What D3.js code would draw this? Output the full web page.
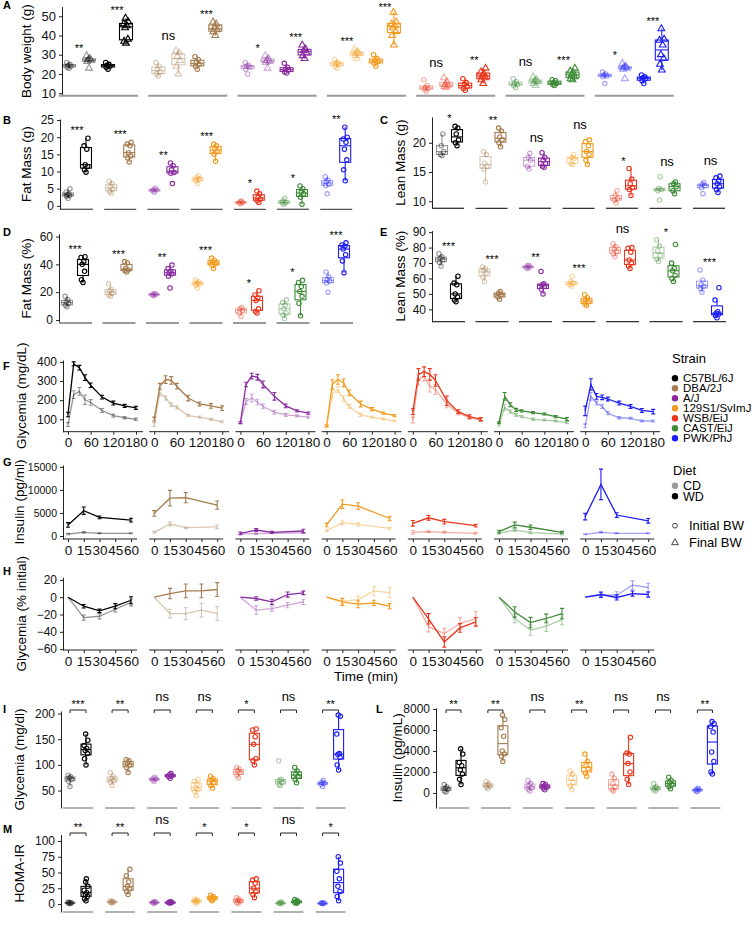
<!DOCTYPE html>
<html>
<head>
<meta charset="utf-8">
<script src="https://cdn.jsdelivr.net/npm/d3@7"></script>
<style>
body { margin: 0; background: #fff; }
svg { font-family: "Liberation Sans", Arial, sans-serif; }
</style>
</head>
<body>
<div id="fig"></div>
<script>
// strains and colours
var strains = ["C57BL/6J", "DBA/2J", "A/J", "129S1/SvImJ", "WSB/EiJ", "CAST/EiJ", "PWK/PhJ"];
var strainColors = ["#000000", "#a57c4f", "#8a2ba0", "#f39a1e", "#e8361c", "#3d8b37", "#1c1cf5"];

// A: body weight, per strain [CD initial, CD final, WD initial, WD final]
var bodyWeight = [
  [[23, 23.5, 24, 24.5, 25, 26], [23, 26.5, 27, 27.5, 28, 29.5], [22.5, 23.5, 24, 24.5, 25, 26], [36, 37, 38, 44, 45, 46, 47, 49]],
  [[19, 20, 21, 22.5, 24, 26], [20, 24, 27, 29, 31, 32], [22.5, 24, 25, 26, 27.5, 29], [40, 42, 43, 44, 46, 47]],
  [[20, 22.5, 23.5, 24, 24.5, 26], [23, 26, 26.5, 27, 28, 29.5], [20.5, 21, 22, 22.5, 23.5, 25.5], [28, 29.5, 31, 32, 33, 35]],
  [[23, 24, 25, 25.5, 26, 27.5], [28, 29.5, 30.5, 31, 31.5, 33], [24, 25.5, 26.5, 27, 28, 30], [35, 40, 42, 44, 45, 46, 47, 52]],
  [[11, 12, 12.5, 13, 14, 17], [13, 13.5, 14, 14.5, 16, 18], [11.5, 12.5, 13.5, 14.5, 15.5, 17.5], [15, 17, 18, 19, 20, 21, 23]],
  [[13, 14, 14.5, 15, 16, 17.5], [14, 15, 16, 16.5, 17, 18.5], [14, 14.5, 15, 15.5, 16.5, 17], [17, 17.5, 18.5, 19.5, 20.5, 21.5, 23]],
  [[15, 18.5, 19, 19.5, 20, 21], [17.5, 22.5, 23, 23.5, 24, 25.5], [15, 16.5, 17.5, 18, 18.5, 19.5], [22, 25, 28, 30, 35, 37.5, 38, 43.5]]
];
var bodyWeightSig = [["**", "***"], ["ns", "***"], ["*", "***"], ["***", "***"], ["ns", "**"], ["ns", "***"], ["*", "***"]];

// B: fat mass (g), per strain [CD, WD]
var fatMass = [
  [[2.2, 2.8, 3.0, 3.2, 3.5, 4, 5], [9.8, 10.5, 11.5, 12, 16.5, 17.5, 19.7]],
  [[3.7, 4.2, 5, 5.5, 6.5, 7.2], [12.8, 14, 14.5, 15.5, 17.5, 18, 18.5]],
  [[4, 4.3, 4.6, 4.8, 5.2], [6.5, 9.5, 9.7, 10.5, 11.7, 12.5]],
  [[6.5, 7.3, 7.8, 8.2, 8.8], [13, 15, 16, 16.5, 17.5, 18]],
  [[0.6, 0.8, 1, 1.2, 1.4], [1, 1.5, 2, 2.5, 3.5, 4.3]],
  [[0.5, 0.8, 1, 1.5, 2.2], [0.5, 2.5, 3.5, 4, 5, 5.8]],
  [[3.5, 5.9, 6.3, 7, 7.5, 8.5], [7.3, 10.5, 13.4, 16.5, 18.5, 19.5, 20, 22.9]]
];
var fatMassSig = ["***", "***", "**", "***", "*", "*", "**"];

// C: lean mass (g)
var leanMass = [
  [[17.8, 18, 18.5, 19.5, 21.5], [19.5, 20, 20.5, 21.5, 22.5, 22.8]],
  [[13.3, 15.5, 16, 16.5, 18, 18.5], [19.3, 20, 20.5, 21, 22, 22.5]],
  [[15.5, 16, 17, 17.5, 18.2], [15.8, 16, 16.5, 17, 17.5, 18.3]],
  [[16.3, 16.5, 17.3, 17.5, 18], [16.3, 17, 18, 18.5, 19.5, 20.2, 20.5]],
  [[9.7, 10.2, 10.5, 11, 11.8], [11, 12, 12.3, 13, 13.8, 15.6]],
  [[10.2, 11.8, 12, 12.2, 14.2], [11.3, 11.8, 12.5, 13, 13.3]],
  [[11.3, 12.3, 12.7, 12.9, 13.2], [11.5, 12, 12.5, 13, 13.5, 14, 14.3]]
];
var leanMassSig = ["*", "**", "ns", "ns", "*", "ns", "ns"];

// D: fat mass (%)
var fatPct = [
  [[9.5, 10.5, 12, 13, 14.5, 17], [27, 29, 35, 40, 42, 45, 45.5]],
  [[17, 18, 19, 21, 22, 26], [34.5, 35.5, 36, 37, 41, 42]],
  [[17.5, 18, 18.3, 18.7, 19], [23, 31.5, 33, 34, 35, 37, 39.5]],
  [[23, 25, 26, 26.5, 27.5, 28.5], [37, 39.5, 40.5, 41.5, 43, 44.5]],
  [[2.5, 5, 7, 8, 9], [5, 6, 8, 14, 16, 18, 21]],
  [[1, 3.5, 5, 8, 10.5, 12.5, 14.5], [3, 12, 17, 20.5, 24, 27, 28.5]],
  [[20, 26.5, 28, 29, 31, 34.5], [34, 42.5, 47, 51, 53, 54, 55.5]]
];
var fatPctSig = ["***", "***", "**", "***", "*", "*", "***"];

// E: lean mass (%)
var leanPct = [
  [[68, 70.5, 72, 73, 74, 76], [45, 46, 48, 50, 56, 57, 61.5]],
  [[58, 61, 63.5, 65, 66.5, 67.5], [46.5, 48, 49.5, 50.5, 51.5]],
  [[66.5, 67, 67.5, 68, 68.5], [50, 53, 55, 56, 56.5, 64.5]],
  [[55, 56, 57, 58, 61.5], [42.5, 43.5, 45, 46, 47.5, 49.5]],
  [[74, 76, 77.5, 79, 80.5, 82.5], [66.5, 68, 70, 72, 77, 79.5, 80]],
  [[71, 72.5, 75, 78, 81, 85], [58, 60, 62, 65, 66.5, 70, 82]],
  [[51, 53.5, 55, 56, 59, 65.5], [34.5, 36, 37, 37.5, 38.5, 46, 54]]
];
var leanPctSig = ["***", "***", "**", "***", "ns", "*", "***"];

// F: glucose tolerance (mg/dL)
var ogttTime = [0, 15, 30, 45, 60, 90, 120, 150, 180];
var glucWD = [
  [125, 390, 370, 318, 278, 216, 185, 170, 160],
  [101, 273, 308, 303, 273, 211, 180, 170, 158],
  [82, 282, 326, 320, 282, 220, 170, 144, 132],
  [65, 282, 308, 291, 238, 180, 153, 132, 119],
  [140, 335, 349, 335, 303, 197, 140, 114, 101],
  [82, 220, 176, 149, 144, 135, 127, 114, 101],
  [144, 282, 220, 215, 206, 185, 167, 146, 140]
];
var glucWDse = [
  [12, 10, 12, 15, 12, 10, 10, 8, 8],
  [10, 15, 20, 20, 15, 15, 10, 12, 12],
  [5, 12, 15, 15, 18, 20, 10, 6, 6],
  [5, 25, 25, 20, 15, 15, 8, 6, 6],
  [15, 30, 25, 30, 30, 25, 10, 10, 8],
  [5, 20, 10, 8, 6, 6, 5, 6, 8],
  [25, 30, 15, 12, 10, 10, 10, 10, 12]
];
var glucCD = [
  [73, 229, 246, 202, 188, 146, 119, 108, 100],
  [73, 238, 211, 176, 162, 119, 111, 100, 87],
  [82, 193, 211, 190, 167, 137, 123, 118, 111],
  [65, 232, 255, 208, 167, 123, 111, 102, 91],
  [96, 308, 326, 273, 255, 180, 132, 108, 96],
  [73, 162, 140, 123, 114, 100, 96, 91, 82],
  [66, 220, 185, 167, 132, 108, 105, 91, 91]
];
var glucCDse = [
  [10, 20, 20, 25, 15, 10, 8, 6, 6],
  [10, 15, 10, 10, 8, 6, 6, 5, 5],
  [5, 15, 20, 15, 12, 10, 8, 6, 6],
  [5, 20, 15, 15, 10, 8, 6, 5, 5],
  [15, 30, 25, 30, 25, 20, 10, 8, 8],
  [8, 15, 10, 8, 6, 6, 5, 5, 5],
  [10, 20, 10, 10, 8, 6, 5, 5, 5]
];

// G: insulin (pg/ml)
var insTime = [0, 15, 30, 60];
var insWD = [[2400, 5500, 4050, 3450], [4900, 8200, 8300, 6700], [580, 1300, 800, 1080], [2400, 6900, 6500, 3800],
  [2750, 3950, 3100, 2250], [950, 2400, 1900, 800], [4200, 11200, 4550, 3300]];
var insWDse = [[500, 800, 300, 400], [600, 1700, 1100, 900], [300, 300, 200, 400], [400, 900, 700, 500],
  [600, 500, 500, 300], [300, 600, 500, 200], [700, 3300, 500, 500]];
var insCD = [[430, 800, 580, 580], [800, 2600, 1800, 2000], [450, 500, 600, 700], [1150, 2900, 2500, 1650],
  [800, 950, 800, 580], [580, 1300, 720, 430], [360, 800, 580, 580]];
var insCDse = [[150, 150, 100, 100], [200, 400, 200, 400], [100, 150, 100, 100], [200, 400, 400, 200],
  [400, 200, 200, 200], [200, 300, 200, 200], [100, 150, 100, 100]];

// H: insulin tolerance (% initial)
var ittTime = [0, 15, 30, 45, 60];
var ittWD = [[0, -10.4, -15.8, -10.4, -3.5], [0, 4.2, 7.3, 7.3, 8.9], [0, -1.5, -5.4, 3.1, 5], [0, -5.4, -8.1, -6.6, -10.4],
  [0, -25, -51.7, -35.5, -28.5], [0, -17, -29.3, -24.6, -18.9], [0, 3.1, -0.3, 4.2, 3.1]];
var ittWDse = [[0, 2, 2, 3, 4], [0, 6, 8, 8, 8], [0, 2, 3, 3, 2], [0, 4, 4, 3, 3], [0, 6, 6, 5, 5], [0, 6, 6, 5, 6], [0, 3, 3, 3, 3]];
var ittCD = [[0, -23.5, -22, -13.9, -6], [0, -18.9, -18.9, -15, -18.9], [0, -15, -13.1, -9.2, -5.4], [0, -4.6, -2.7, 7.3, 5.4],
  [0, -34, -42, -30.4, -24.6], [0, -24.6, -38, -33.5, -25.8], [0, 2.3, 2.3, 13.9, 11.2]];
var ittCDse = [[0, 3, 3, 3, 4], [0, 5, 7, 8, 8], [0, 5, 3, 3, 3], [0, 3, 4, 5, 6], [0, 6, 6, 7, 8], [0, 5, 6, 6, 6], [0, 3, 4, 5, 5]];

// I: fasting glycemia (mg/dl), L: fasting insulin (pg/mL), M: HOMA-IR
var fastGluc = [
  [[58, 68, 72, 75, 77, 80], [100, 112, 122, 128, 132, 138, 148, 160]],
  [[60, 66, 70, 73, 78, 85], [85, 95, 100, 103, 108, 110]],
  [[68, 70, 72, 74, 76], [74, 77, 79, 81, 83]],
  [[40, 48, 52, 56, 62, 68, 72], [55, 60, 66, 70, 73, 78]],
  [[75, 80, 85, 88, 92, 95], [100, 108, 112, 140, 155, 168, 170]],
  [[60, 62, 66, 70, 72, 108], [65, 72, 78, 82, 88, 95]],
  [[58, 62, 64, 66, 70], [90, 100, 115, 120, 122, 160, 195, 197]]
];
var fastGlucSig = ["***", "**", "ns", "ns", "*", "ns", "**"];
var fastIns = [
  [[100, 200, 350, 450, 600, 800], [800, 1300, 1800, 2200, 2600, 2900, 3700, 4200]],
  [[400, 550, 650, 750, 900, 1100], [3000, 3500, 3700, 4000, 5400, 6200, 7000, 7400]],
  [[200, 350, 500, 700, 900, 1200], [300, 450, 550, 650, 800, 900]],
  [[300, 700, 1000, 1400, 1800, 2100], [1600, 1900, 2300, 2600, 3000, 3700]],
  [[200, 300, 600, 900, 1400, 1800], [800, 1300, 2000, 2800, 3700, 3800, 5300]],
  [[200, 300, 400, 500, 600, 900], [400, 600, 800, 1000, 1200, 1500]],
  [[150, 200, 300, 350, 450], [1800, 2000, 3000, 3900, 5800, 6300, 6600, 6800]]
];
var fastInsSig = ["**", "**", "ns", "**", "ns", "ns", "**"];
var homa = [
  [[0.5, 1, 1.5, 2, 2.5, 3], [5, 8, 12, 15, 18, 22, 28, 35, 40]],
  [[1.5, 2.5, 3, 3.5, 4, 5], [15, 20, 24, 28, 35, 45, 55]],
  [[1, 1.5, 2.5, 3, 4], [1.5, 2, 2.5, 3, 3.5]],
  [[1, 3, 4, 5, 7, 8], [5, 7, 9, 10, 12, 14]],
  [[1, 2, 4, 6, 8, 10], [10, 15, 20, 25, 33, 38, 40]],
  [[0.5, 1, 1.5, 2, 3], [1, 2, 3, 4, 5, 7]],
  [[0.5, 1, 1.2, 1.5, 2], [5, 12, 20, 28, 40, 52, 65, 75]]
];
var homaSig = ["**", "**", "ns", "*", "*", "ns", "*"];

var LIGHT = 0.42;

var svg = d3.select("#fig").append("svg")
  .attr("width", 755)
  .attr("height", 928);

var tri = d3.symbol().type(d3.symbolTriangle).size(20)();
var jit = [0, -2, 2, -1, 1, -2.5, 2.5, -0.5, 0.5];

function boxStats(vals) {
  var s = vals.slice().sort(d3.ascending);
  var q1 = d3.quantile(s, 0.25), med = d3.quantile(s, 0.5), q3 = d3.quantile(s, 0.75);
  var iqr = q3 - q1;
  return {
    q1: q1, med: med, q3: q3,
    lo: d3.min(s.filter(v => v >= q1 - 1.5 * iqr)),
    hi: d3.max(s.filter(v => v <= q3 + 1.5 * iqr))
  };
}

function drawBox(g, cx, w, y, vals, color, op, shape) {
  var st = boxStats(vals);
  var b = g.append("g")
    .attr("stroke", color)
    .attr("stroke-opacity", op)
    .attr("stroke-width", 1.1)
    .attr("fill", "none");
  b.append("line").attr("x1", cx).attr("x2", cx).attr("y1", y(st.hi)).attr("y2", y(st.q3));
  b.append("line").attr("x1", cx).attr("x2", cx).attr("y1", y(st.q1)).attr("y2", y(st.lo));
  b.append("rect")
    .attr("x", cx - w / 2).attr("width", w)
    .attr("y", y(st.q3)).attr("height", Math.max(1, y(st.q1) - y(st.q3)));
  b.append("line").attr("x1", cx - w / 2).attr("x2", cx + w / 2).attr("y1", y(st.med)).attr("y2", y(st.med));
  vals.forEach(function(v, i) {
    var px = cx + jit[i % jit.length] * w / 14;
    if (shape === "t") {
      b.append("path").attr("d", tri).attr("transform", `translate(${px},${y(v)})`);
    } else {
      b.append("circle").attr("cx", px).attr("cy", y(v)).attr("r", 2.2);
    }
  });
}

function sigText(g, cx, yy, s) {
  if (s === "ns") {
    g.append("text").attr("x", cx).attr("y", Math.max(13, yy - 5)).attr("text-anchor", "middle")
      .attr("font-size", 13).text(s);
  } else {
    g.append("text").attr("x", cx).attr("y", Math.max(11, yy + 2)).attr("text-anchor", "middle")
      .attr("font-size", 11).text(s);
  }
}

function styleAxis(sel, fs) {
  sel.selectAll(".domain").attr("stroke", "#222");
  sel.selectAll(".tick line").attr("stroke", "#222");
  sel.selectAll(".tick text").attr("font-size", fs || 12).attr("fill", "#111")
    .attr("font-family", "Liberation Sans, Arial, sans-serif");
}

function panelLabel(x, y, s) {
  svg.append("text").attr("x", x).attr("y", y).attr("font-size", 11).attr("font-weight", "bold").text(s);
}

function yTitle(x, y, s) {
  svg.append("text")
    .attr("transform", `translate(${x},${y}) rotate(-90)`)
    .attr("text-anchor", "middle")
    .attr("font-size", 13.5)
    .text(s);
}

function boxPanel(p) {
  var g = svg.append("g");
  var y = d3.scaleLinear().domain(p.domain).range(p.range);
  g.append("g")
    .attr("transform", `translate(${p.axisX},0)`)
    .call(d3.axisLeft(y).tickValues(p.ticks).tickFormat(d3.format("d")).tickSize(3).tickSizeOuter(0))
    .call(styleAxis, p.tickFont);
  yTitle(p.titleX, (p.range[0] + p.range[1]) / 2, p.title);
  p.data.forEach(function(grp, i) {
    var x0 = p.x0 + i * p.step;
    g.append("line")
      .attr("x1", x0).attr("x2", x0 + p.gw)
      .attr("y1", p.range[0]).attr("y2", p.range[0])
      .attr("stroke", p.baseColor).attr("stroke-width", p.baseW);
    grp.forEach(function(vals, j) {
      drawBox(g, x0 + p.offs[j], p.bw, y, vals, strainColors[i], p.alpha[j], p.shape[j]);
    });
    p.pairs.forEach(function(pr, k) {
      var sig = Array.isArray(p.sig[i]) ? p.sig[i][k] : p.sig[i];
      var cx = x0 + (p.offs[pr[0]] + p.offs[pr[1]]) / 2;
      if (p.bracketY) {
        g.append("path")
          .attr("d", `M${x0 + p.offs[pr[0]]},${p.bracketY + 3}V${p.bracketY}H${x0 + p.offs[pr[1]]}V${p.bracketY + 3}`)
          .attr("fill", "none").attr("stroke", "#222").attr("stroke-width", 1);
        sigText(g, cx, p.bracketY - 4, sig);
      } else {
        var m = d3.max(pr, j => d3.max(grp[j]));
        sigText(g, cx, y(m) - 6, sig);
      }
    });
  });
}

function linePanel(p) {
  var g = svg.append("g");
  var y = d3.scaleLinear().domain(p.domain).range(p.range);
  g.append("g")
    .attr("transform", `translate(63,0)`)
    .call(d3.axisLeft(y).tickValues(p.ticks).tickFormat(d3.format("d")).tickSize(3).tickSizeOuter(0))
    .call(styleAxis, p.tickFont);
  yTitle(p.titleX || 26, (p.range[0] + p.range[1]) / 2, p.title);
  strains.forEach(function(s, i) {
    var L = 63 + i * 86.2;
    var x = d3.scaleLinear().domain([0, p.tmax]).range([L + 5, L + 5 + p.w]);
    g.append("line").attr("x1", L).attr("x2", L + p.lineW)
      .attr("y1", p.range[0]).attr("y2", p.range[0]).attr("stroke", "#222");
    var ax = g.append("g")
      .attr("transform", `translate(0,${p.range[0]})`)
      .call(d3.axisBottom(x).tickValues(p.xticks).tickSize(3).tickSizeOuter(0))
      .call(styleAxis, 13.5);
    ax.select(".domain").remove();
    [[p.cd, p.cdse, LIGHT], [p.wd, p.wdse, 1]].forEach(function(sr) {
      var vals = sr[0][i], se = sr[1][i];
      var line = d3.line().x((d, k) => x(p.time[k])).y(d => y(d));
      var sg = g.append("g").attr("stroke", strainColors[i]).attr("stroke-opacity", sr[2]).attr("fill", "none");
      sg.append("path").datum(vals).attr("d", line).attr("stroke-width", 1.3);
      vals.forEach(function(v, k) {
        if (!se[k]) return;
        var xx = x(p.time[k]);
        sg.append("path")
          .attr("d", `M${xx - 2},${y(v + se[k])}H${xx + 2}M${xx},${y(v + se[k])}V${y(v - se[k])}M${xx - 2},${y(v - se[k])}H${xx + 2}`)
          .attr("stroke-width", 1.1);
      });
    });
  });
}

// ---------- A ----------
panelLabel(3, 9, "A");
boxPanel({
  title: "Body weight (g)", titleX: 31, tickFont: 13,
  domain: [8.7, 55], range: [95.7, 6.6], ticks: [10, 20, 30, 40, 50], axisX: 62,
  data: bodyWeight, sig: bodyWeightSig, pairs: [[0, 1], [2, 3]],
  x0: 59, step: 89.3, gw: 79, offs: [10, 30, 49, 67], bw: 13,
  alpha: [LIGHT, LIGHT, 1, 1], shape: ["c", "t", "c", "t"],
  baseColor: "#999", baseW: 2
});

// ---------- B ----------
panelLabel(3, 124, "B");
boxPanel({
  title: "Fat Mass (g)", titleX: 31, tickFont: 12,
  domain: [-1, 25.3], range: [209.3, 119], ticks: [0, 5, 10, 15, 20, 25], axisX: 60,
  data: fatMass, sig: fatMassSig, pairs: [[0, 1]],
  x0: 61, step: 43.2, gw: 32, offs: [7, 25], bw: 11,
  alpha: [LIGHT, 1], shape: ["c", "c"],
  baseColor: "#555", baseW: 1.3
});

// ---------- C ----------
panelLabel(380, 124, "C");
boxPanel({
  title: "Lean Mass (g)", titleX: 405, tickFont: 12,
  domain: [8.8, 24.4], range: [208.3, 117], ticks: [10, 15, 20], axisX: 432,
  data: leanMass, sig: leanMassSig, pairs: [[0, 1]],
  x0: 432, step: 43.5, gw: 32, offs: [10, 25], bw: 11,
  alpha: [LIGHT, 1], shape: ["c", "c"],
  baseColor: "#333", baseW: 1.3
});

// ---------- D ----------
panelLabel(3, 236, "D");
boxPanel({
  title: "Fat Mass (%)", titleX: 31, tickFont: 12,
  domain: [-2.2, 62], range: [323, 233.8], ticks: [0, 20, 40, 60], axisX: 59,
  data: fatPct, sig: fatPctSig, pairs: [[0, 1]],
  x0: 59, step: 43.5, gw: 33, offs: [8, 24], bw: 11,
  alpha: [LIGHT, 1], shape: ["c", "c"],
  baseColor: "#999", baseW: 2
});

// ---------- E ----------
panelLabel(380, 236, "E");
boxPanel({
  title: "Lean Mass (%)", titleX: 405, tickFont: 12,
  domain: [32, 91], range: [321.7, 230.6], ticks: [40, 50, 60, 70, 80, 90], axisX: 432,
  data: leanPct, sig: leanPctSig, pairs: [[0, 1]],
  x0: 432, step: 43.5, gw: 33, offs: [9, 24], bw: 11,
  alpha: [LIGHT, 1], shape: ["c", "c"],
  baseColor: "#333", baseW: 1.3
});

// ---------- F ----------
panelLabel(3, 370, "F");
linePanel({
  title: "Glycemia (mg/dL)", tickFont: 12, domain: [35, 410], range: [431.7, 360], ticks: [100, 200, 300, 400],
  time: ogttTime, tmax: 180, xticks: [0, 60, 120, 180], w: 68, lineW: 80,
  wd: glucWD, wdse: glucWDse, cd: glucCD, cdse: glucCDse
});

// ---------- G ----------
panelLabel(3, 466, "G");
linePanel({
  title: "Insulin (pg/ml)", titleX: 24, tickFont: 10.5, domain: [-650, 15400], range: [539, 465], ticks: [0, 5000, 10000, 15000],
  time: insTime, tmax: 60, xticks: [0, 15, 30, 45, 60], w: 63, lineW: 74,
  wd: insWD, wdse: insWDse, cd: insCD, cdse: insCDse
});

// ---------- H ----------
panelLabel(3, 575, "H");
linePanel({
  title: "Glycemia (% initial)", tickFont: 12, domain: [-61, 23], range: [650, 577.3], ticks: [-60, -40, -20, 0, 20],
  time: ittTime, tmax: 60, xticks: [0, 15, 30, 45, 60], w: 63, lineW: 74,
  wd: ittWD, wdse: ittWDse, cd: ittCD, cdse: ittCDse
});
svg.append("text").attr("x", 366).attr("y", 681).attr("text-anchor", "middle")
  .attr("font-size", 13.5).text("Time (min)");

// ---------- I ----------
panelLabel(3, 713, "I");
boxPanel({
  title: "Glycemia (mg/dl)", titleX: 24, tickFont: 12,
  domain: [16, 205], range: [808, 711], ticks: [50, 100, 150, 200], axisX: 61,
  data: fastGluc, sig: fastGlucSig, pairs: [[0, 1]], bracketY: 710,
  x0: 63, step: 42.1, gw: 30, offs: [7, 23], bw: 10,
  alpha: [LIGHT, 1], shape: ["c", "c"],
  baseColor: "#999", baseW: 1.5
});

// ---------- L ----------
panelLabel(376, 713, "L");
boxPanel({
  title: "Insulin (pg/mL)", titleX: 402, tickFont: 12,
  domain: [-1430, 8100], range: [808, 707.9], ticks: [0, 2000, 4000, 6000, 8000], axisX: 436,
  data: fastIns, sig: fastInsSig, pairs: [[0, 1]], bracketY: 710,
  x0: 439, step: 41.9, gw: 30, offs: [7, 22], bw: 10,
  alpha: [LIGHT, 1], shape: ["c", "c"],
  baseColor: "#999", baseW: 1.5
});

// ---------- M ----------
panelLabel(3, 833, "M");
boxPanel({
  title: "HOMA-IR", titleX: 24, tickFont: 12,
  domain: [-12.7, 110], range: [912, 834.7], ticks: [0, 25, 50, 75, 100], axisX: 61,
  data: homa, sig: homaSig, pairs: [[0, 1]], bracketY: 833,
  x0: 63, step: 42.1, gw: 30, offs: [7, 23], bw: 10,
  alpha: [LIGHT, 1], shape: ["c", "c"],
  baseColor: "#999", baseW: 1.5
});

// ---------- legends ----------
var lg = svg.append("g").attr("font-size", 11.5);
lg.append("text").attr("x", 672).attr("y", 363).attr("font-size", 13).text("Strain");
strains.forEach(function(s, i) {
  var yy = 378.3 + i * 10;
  lg.append("circle").attr("cx", 675).attr("cy", yy).attr("r", 3.2).attr("fill", strainColors[i]);
  lg.append("text").attr("x", 683).attr("y", yy).attr("dy", "0.35em").text(s);
});
lg.append("text").attr("x", 673).attr("y", 474.5).attr("font-size", 13).text("Diet");
[["CD", "#999"], ["WD", "#000"]].forEach(function(d, i) {
  var yy = 485.7 + i * 10.5;
  lg.append("circle").attr("cx", 675).attr("cy", yy).attr("r", 3.2).attr("fill", d[1]);
  lg.append("text").attr("x", 683).attr("y", yy).attr("dy", "0.35em").attr("font-size", 12.5).text(d[0]);
});
lg.append("circle").attr("cx", 675).attr("cy", 525.7).attr("r", 2.4)
  .attr("fill", "none").attr("stroke", "#444");
lg.append("text").attr("x", 689).attr("y", 525.7).attr("dy", "0.35em").attr("font-size", 13).text("Initial BW");
lg.append("path").attr("d", tri).attr("transform", "translate(675,542.7)")
  .attr("fill", "none").attr("stroke", "#444");
lg.append("text").attr("x", 689).attr("y", 542.7).attr("dy", "0.35em").attr("font-size", 13).text("Final BW");
</script>
</body>
</html>
